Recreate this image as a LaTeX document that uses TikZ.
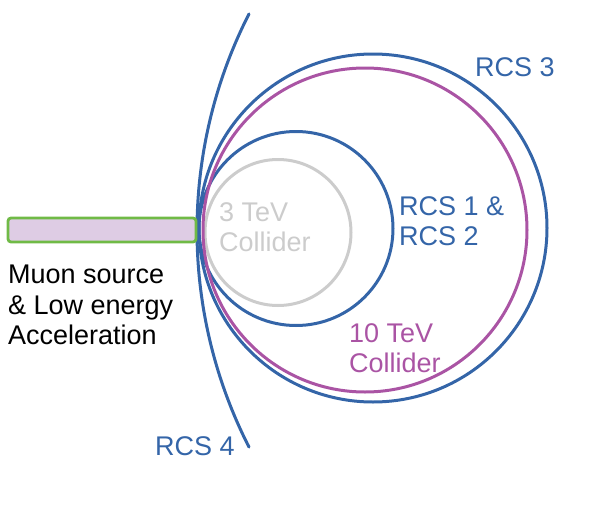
\documentclass[tikz,border=0pt]{standalone}
\usepackage{fontspec}
\setmainfont{Liberation Sans}
\usepackage{xcolor}
\usepackage{tikz}
\usetikzlibrary{positioning,calc}
\definecolor{rcsbleu}{RGB}{52,101,168}
\definecolor{colviolet}{RGB}{170,84,164}
\definecolor{colgris}{RGB}{204,204,204}
\definecolor{sourcevert}{RGB}{112,186,70}
\definecolor{sourcefond}{RGB}{222,204,228}
\tikzset{
  anneau/.style={line width=3pt},
  etiq/.style={anchor=base west,inner sep=0pt,align=left,
               font=\fontsize{27}{30.5}\selectfont}
}
\begin{document}
\begin{tikzpicture}[x=1pt,y=-1pt]
      \useasboundingbox (0,0) rectangle (598,509);
      % rings, all touching at the injection point
      \coordinate (c3tev) at (278,232.5);
      \coordinate (crcs12) at (296,228.5);
      \coordinate (c10tev) at (365,230);
      \coordinate (crcs3) at (373,228);
      \coordinate (crcs4) at (674,230.5);
      \draw[anneau,colgris] (c3tev) circle[radius=73pt];
      \draw[anneau,rcsbleu] (crcs12) circle[radius=97pt];
      \draw[anneau,colviolet] (c10tev) circle[radius=162pt];
      \draw[anneau,rcsbleu] (crcs3) circle[radius=174pt];
      \draw[anneau,rcsbleu,line cap=round] (crcs4) ++(153:477pt) arc[start angle=153,end angle=207,radius=477pt];
      % source
      \draw[line width=2.8pt,sourcevert,fill=sourcefond,rounded corners=3pt] (8,218) rectangle (196,242);
      % labels (base = last line)
      \node[etiq] (muon) at (8,344.5) {Muon source\\\& Low energy\\Acceleration};
      \node[etiq,colgris] (l3tev) at (219,251.5) {3 TeV\\Collider};
      \node[etiq,rcsbleu] (lrcs12) at (399,245.5) {RCS 1 \&\\RCS 2};
      \node[etiq,colviolet] (l10tev) at (349,372.5) {10 TeV\\Collider};
      \node[etiq,rcsbleu] (lrcs3) at (475,76.5) {RCS 3};
      \node[etiq,rcsbleu] (lrcs4) at (155,455) {RCS 4};
    \end{tikzpicture}
\end{document}
